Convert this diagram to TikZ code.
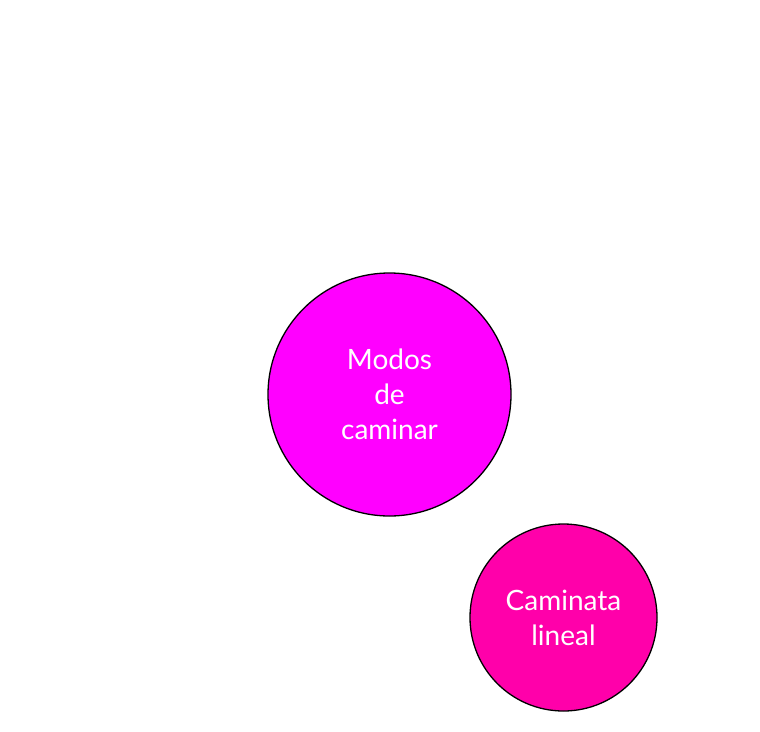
\documentclass[tikz,border=0pt]{standalone}
\usepackage{fontspec}
\setmainfont{Lato}
\usetikzlibrary{positioning}
\definecolor{modopink}{HTML}{FF00FF}
\definecolor{linealpink}{HTML}{FF00AA}
\tikzset{
    topic/.style={
        circle,
        draw=black,
        line width=1.3pt,
        text=white,
        align=center,
        inner sep=0pt,
        font=\fontsize{28}{35}\selectfont,
    },
    main/.style={
        topic,
        fill=modopink,
        minimum size=243pt,
    },
    sub/.style={
        topic,
        fill=linealpink,
        minimum size=187pt,
    },
}
\begin{document}
\begin{tikzpicture}[x=1pt,y=-1pt]
    \useasboundingbox (0,0) rectangle (760,731);

    \node [main] (modos) at (389.5,394.5) {Modos\\de\\caminar};

    \node [sub] (lineal) at (563.5,617.5) {Caminata\\lineal};

\end{tikzpicture}
\end{document}
